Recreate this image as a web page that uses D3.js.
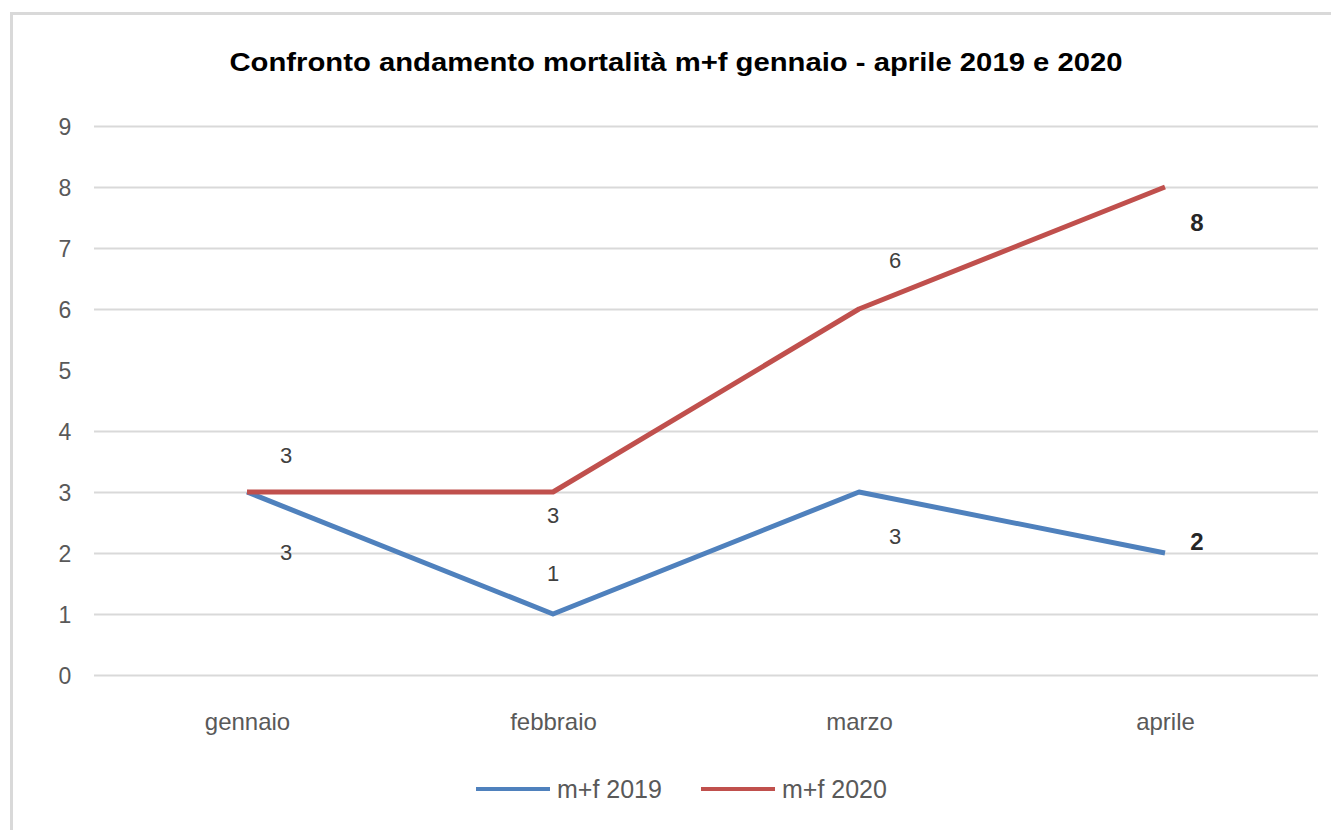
<!DOCTYPE html>
<html>
<head>
<meta charset="utf-8">
<script src="https://cdn.jsdelivr.net/npm/d3@7"></script>
<style>
  body { margin: 0; background: #fff; }
  svg { display: block; font-family: "Liberation Sans", Arial, sans-serif; }
</style>
</head>
<body>
<svg id="chart"></svg>
<script>
// chart values
const months = ["gennaio", "febbraio", "marzo", "aprile"];
const deaths2019 = [3, 1, 3, 2];
const deaths2020 = [3, 3, 6, 8];
const yTicks = [0, 1, 2, 3, 4, 5, 6, 7, 8, 9];
const seriesNames = ["m+f 2019", "m+f 2020"];

// label offsets (dx, dy) per point, hand placed like the original
const labelOffsets2019 = [[39, 60], [0, -41], [36, 44], [32, -12]];
const labelOffsets2020 = [[39, -37], [0, 23], [36, -49], [32, 35]];

const W = 1331, H = 830;
const margin = { top: 126, right: 13, bottom: 155, left: 94 };
const width = W - margin.left - margin.right;
const height = H - margin.top - margin.bottom;

const svg = d3.select("#chart").attr("width", W).attr("height", H);

// outer frame
svg.append("rect")
  .attr("x", 11.5).attr("y", 13.5)
  .attr("width", 1340).attr("height", 830)
  .attr("fill", "none").attr("stroke", "#d9d9d9").attr("stroke-width", 3);

svg.append("text")
  .attr("x", 676).attr("y", 71)
  .attr("text-anchor", "middle")
  .attr("font-size", 25).attr("font-weight", "bold").attr("fill", "#000")
  .attr("textLength", 893).attr("lengthAdjust", "spacingAndGlyphs")
  .text("Confronto andamento mortalità m+f gennaio - aprile 2019 e 2020");

const g = svg.append("g").attr("transform", `translate(${margin.left},${margin.top})`);

const x = d3.scalePoint().domain(months).range([0, width]).padding(0.5);
const y = d3.scaleLinear().domain([0, 9]).range([height, 0]);

// gridlines (the 5 line is absent in the original)
g.append("g")
  .selectAll("line")
  .data(yTicks.filter(d => d !== 5))
  .join("line")
  .attr("x1", 0).attr("x2", width)
  .attr("y1", d => Math.round(y(d)) + 0.5).attr("y2", d => Math.round(y(d)) + 0.5)
  .attr("stroke", "#d9d9d9").attr("stroke-width", 2);

// y axis labels
const yAxis = g.append("g")
  .attr("transform", "translate(-29,0)")
  .call(d3.axisLeft(y).tickValues(yTicks).tickSize(0).tickPadding(0));
yAxis.select(".domain").remove();
yAxis.selectAll("text")
  .attr("font-size", 23).attr("fill", "#595959")
  .attr("font-family", "Liberation Sans, Arial, sans-serif")
  .attr("text-anchor", "middle").attr("dy", "0.36em");

// x axis labels
const xAxis = g.append("g")
  .attr("transform", `translate(0,${height})`)
  .call(d3.axisBottom(x).tickSize(0).tickPadding(38));
xAxis.select(".domain").remove();
xAxis.selectAll("text")
  .attr("font-size", 24).attr("fill", "#595959")
  .attr("font-family", "Liberation Sans, Arial, sans-serif");

const line = d3.line().x((d, i) => x(months[i])).y(d => y(d));

const series = [
  { name: seriesNames[0], values: deaths2019, color: "#4f81bd", offsets: labelOffsets2019 },
  { name: seriesNames[1], values: deaths2020, color: "#c0504d", offsets: labelOffsets2020 }
];

series.forEach(s => {
  g.append("path")
    .datum(s.values)
    .attr("d", line)
    .attr("fill", "none")
    .attr("stroke", s.color)
    .attr("stroke-width", 5)
    .attr("stroke-linejoin", "round");
});

series.forEach(s => {
  g.append("g")
    .selectAll("text")
    .data(s.values)
    .join("text")
    .attr("x", (d, i) => x(months[i]) + s.offsets[i][0])
    .attr("y", (d, i) => y(d) + s.offsets[i][1])
    .attr("dy", "0.36em")
    .attr("text-anchor", "middle")
    .attr("font-size", (d, i) => i === 3 ? 24 : 22)
    .attr("font-weight", (d, i) => i === 3 ? "bold" : "normal")
    .attr("fill", (d, i) => i === 3 ? "#262626" : "#404040")
    .text(d => d);
});

// legend
const legend = svg.append("g").attr("transform", "translate(0,789)");
const legendX = [476, 701];
series.forEach((s, i) => {
  legend.append("line")
    .attr("x1", legendX[i]).attr("x2", legendX[i] + 74)
    .attr("y1", 0).attr("y2", 0)
    .attr("stroke", s.color).attr("stroke-width", 4);
  legend.append("text")
    .attr("x", legendX[i] + 81).attr("y", 0).attr("dy", "0.36em")
    .attr("font-size", 25).attr("fill", "#595959")
    .text(s.name);
});
</script>
</body>
</html>
